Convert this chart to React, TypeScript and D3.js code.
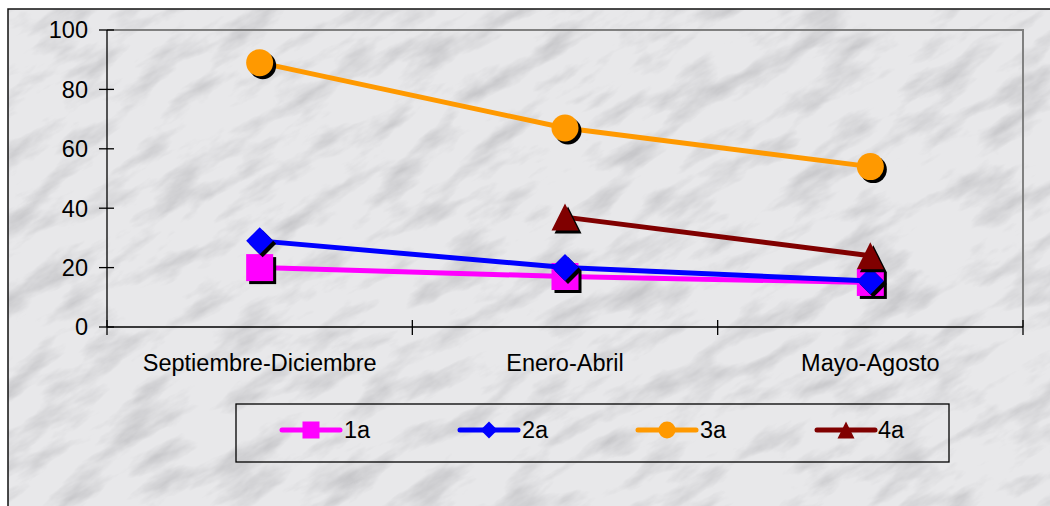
import React from "react";
import * as d3 from "d3";

const categories = ["Septiembre-Diciembre", "Enero-Abril", "Mayo-Agosto"];
const yTicks = [0, 20, 40, 60, 80, 100];
const seriesNames = ["1a", "2a", "3a", "4a"];
const values1a: (number | null)[] = [20, 17, 15];
const values2a: (number | null)[] = [29, 20, 15.5];
const values3a: (number | null)[] = [89, 67, 54];
const values4a: (number | null)[] = [null, 37, 24];
const seriesColors = ["#ff00ff", "#0000ff", "#ff9900", "#800000"];
const seriesShapes = ["square", "diamond", "circle", "triangle"];

const W = 1050;
const H = 506;
const plot = { left: 107, right: 1023, top: 30, bottom: 327 };

function markerPath(shape: string, s: number): string {
  const h = s / 2;
  if (shape === "square") return `M${-h},${-h}H${h}V${h}H${-h}Z`;
  if (shape === "diamond") return `M0,${-h}L${h},0L0,${h}L${-h},0Z`;
  if (shape === "triangle") return `M0,${-h}L${h},${h}L${-h},${h}Z`;
  return `M${-h},0A${h},${h} 0 1,0 ${h},0A${h},${h} 0 1,0 ${-h},0Z`;
}

export default function App() {
  const x = d3.scaleBand<string>().domain(categories).range([plot.left, plot.right]);
  const y = d3.scaleLinear().domain([0, 100]).range([plot.bottom, plot.top]);
  const allSeries = [values1a, values2a, values3a, values4a];
  const font = "'Liberation Sans', Arial, sans-serif";
  const bandEdges = [plot.left, ...categories.map((c) => (x(c) as number) + x.bandwidth())];
  const fs = 23.5;

  const legendItems = [
    { lx: 282, tx: 344 },
    { lx: 460, tx: 522 },
    { lx: 638, tx: 700 },
    { lx: 817, tx: 878 },
  ];
  const legendY = 430;

  return (
    <svg
      width={W}
      height={H}
      style={{ position: "absolute", left: 0, top: 0, display: "block" }}
      fontFamily={font}
    >
      <defs>
        <filter id="marble" x={-500} y={-500} width={2100} height={1500} filterUnits="userSpaceOnUse">
          <feTurbulence type="fractalNoise" baseFrequency="0.014 0.04" numOctaves="5" seed="11" result="n" />
          <feColorMatrix
            type="matrix"
            values="0 0 0 0 0.47  0 0 0 0 0.47  0 0 0 0 0.49  1.7 0 0 0 -0.8"
          />
        </filter>
        <clipPath id="chartClip">
          <rect x={8} y={9} width={W} height={H} />
        </clipPath>
      </defs>
      <rect x={0} y={0} width={W} height={H} fill="#ffffff" />
      <g clipPath="url(#chartClip)">
        <rect x={8} y={9} width={W} height={H} fill="#e8e8ea" />
        <g transform="rotate(-30 525 253)">
          <rect x={-500} y={-500} width={2100} height={1500} filter="url(#marble)" />
        </g>
      </g>
      <rect x={8} y={9} width={W + 10} height={H + 10} fill="none" stroke="#111" strokeWidth={1.5} />

      {/* plot area border top/right */}
      <path
        d={`M${plot.left},${plot.top}H${plot.right}V${plot.bottom}`}
        fill="none"
        stroke="#808080"
        strokeWidth={2}
      />
      {/* axes */}
      <line x1={plot.left} x2={plot.left} y1={plot.top} y2={plot.bottom} stroke="#000" strokeWidth={1.3} />
      <line x1={plot.left} x2={plot.right} y1={plot.bottom} y2={plot.bottom} stroke="#000" strokeWidth={1.3} />
      {yTicks.map((t) => (
        <g key={t}>
          <line x1={99} x2={114} y1={y(t)} y2={y(t)} stroke="#000" strokeWidth={1.3} />
          <text x={88} y={y(t)} dy="0.36em" textAnchor="end" fontSize={fs} fill="#000">
            {t}
          </text>
        </g>
      ))}
      {bandEdges.map((e, i) => (
        <line key={i} x1={e} x2={e} y1={plot.bottom - 7} y2={plot.bottom + 8} stroke="#000" strokeWidth={1.3} />
      ))}
      {categories.map((c) => (
        <text
          key={c}
          x={(x(c) as number) + x.bandwidth() / 2}
          y={371}
          textAnchor="middle"
          fontSize={fs}
          fill="#000"
        >
          {c}
        </text>
      ))}

      {/* series */}
      {allSeries.map((vals, si) => {
        const pts = vals
          .map((v, i) => (v == null ? null : { cx: (x(categories[i]) as number) + x.bandwidth() / 2, cy: y(v) }))
          .filter((p) => p != null) as { cx: number; cy: number }[];
        const line = d3
          .line<{ cx: number; cy: number }>()
          .x((p) => p.cx)
          .y((p) => p.cy);
        return (
          <g key={si}>
            <path d={line(pts) || ""} fill="none" stroke={seriesColors[si]} strokeWidth={5} />
            {pts.map((p, i) => (
              <g key={i}>
                <path d={markerPath(seriesShapes[si], 27)} transform={`translate(${p.cx + 3},${p.cy + 3})`} fill="#000" />
                <path d={markerPath(seriesShapes[si], 27)} transform={`translate(${p.cx},${p.cy})`} fill={seriesColors[si]} />
              </g>
            ))}
          </g>
        );
      })}

      {/* legend */}
      <rect x={236} y={404} width={713} height={58} fill="none" stroke="#000" strokeWidth={1.3} />
      {seriesNames.map((n, i) => (
        <g key={n}>
          <line
            x1={legendItems[i].lx}
            x2={legendItems[i].lx + 58}
            y1={legendY}
            y2={legendY}
            stroke={seriesColors[i]}
            strokeWidth={5}
            strokeLinecap="round"
          />
          <path
            d={markerPath(seriesShapes[i], 17)}
            transform={`translate(${legendItems[i].lx + 29},${legendY})`}
            fill={seriesColors[i]}
          />
          <text x={legendItems[i].tx} y={legendY} dy="0.36em" fontSize={fs} fill="#000">
            {n}
          </text>
        </g>
      ))}
    </svg>
  );
}
